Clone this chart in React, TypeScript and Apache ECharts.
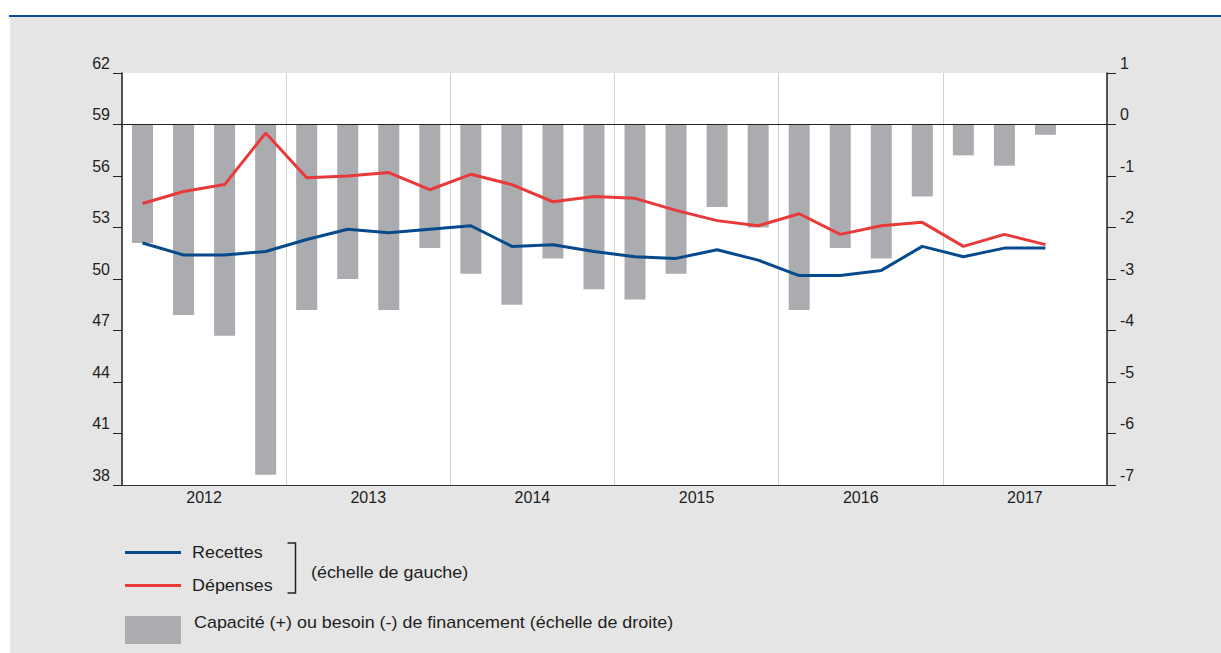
import React, { useEffect, useRef } from "react";
import * as echarts from "echarts";

const quarters = [
  "2012T1", "2012T2", "2012T3", "2012T4",
  "2013T1", "2013T2", "2013T3", "2013T4",
  "2014T1", "2014T2", "2014T3", "2014T4",
  "2015T1", "2015T2", "2015T3", "2015T4",
  "2016T1", "2016T2", "2016T3", "2016T4",
  "2017T1", "2017T2", "2017T3", "2017T4",
];
const years = ["2012", "2013", "2014", "2015", "2016", "2017"];

const recettes = [52.1, 51.4, 51.4, 51.6, 52.3, 52.9, 52.7, 52.9, 53.1, 51.9, 52.0, 51.6, 51.3, 51.2, 51.7, 51.1, 50.2, 50.2, 50.5, 51.9, 51.3, 51.8, 51.8];
const depenses = [54.4, 55.1, 55.5, 58.5, 55.9, 56.0, 56.2, 55.2, 56.1, 55.5, 54.5, 54.8, 54.7, 54.0, 53.4, 53.1, 53.8, 52.6, 53.1, 53.3, 51.9, 52.6, 52.0];
const capacite = [-2.3, -3.7, -4.1, -6.8, -3.6, -3.0, -3.6, -2.4, -2.9, -3.5, -2.6, -3.2, -3.4, -2.9, -1.6, -2.0, -3.6, -2.4, -2.6, -1.4, -0.6, -0.8, -0.2];

const FONT = "'Liberation Sans', Arial, sans-serif";
const BLUE = "#064a8c";
const RED = "#e8393b";
const GREY = "#abacb0";
const TXT = "#1e1e1e";
const LEG_SX = 1.12;

export default function App() {
  const ref = useRef<HTMLDivElement>(null);
  useEffect(() => {
    if (!ref.current) return;
    const chart = echarts.init(ref.current, undefined, { renderer: "svg" });
    const legText = (text: string, x: number, y: number) => ({
      type: "text", x, y, scaleX: LEG_SX,
      style: { text, fill: TXT, font: `16px ${FONT}`, verticalAlign: "middle" },
    });
    const option: any = {
      animation: false,
      textStyle: { fontFamily: FONT },
      grid: {
        left: 122, top: 73, right: 114, bottom: 168,
        show: true, backgroundColor: "#ffffff", borderWidth: 0,
      },
      xAxis: [
        {
          type: "category", data: quarters, position: "top", boundaryGap: true,
          axisLine: { show: true, lineStyle: { color: "#222", width: 1 } },
          axisTick: { show: false }, axisLabel: { show: false }, splitLine: { show: false },
        },
        {
          type: "category", data: years, position: "bottom", boundaryGap: true,
          axisLine: { show: true, lineStyle: { color: "#333", width: 1 } },
          axisTick: { show: false },
          axisLabel: { show: true, color: TXT, fontSize: 16, fontFamily: FONT, margin: 4 },
          splitLine: { show: true, lineStyle: { color: "#d2d2d2", width: 1 } },
        },
      ],
      yAxis: [
        {
          type: "value", position: "left", min: 38, max: 62, alignTicks: true,
          axisLine: { show: true, lineStyle: { color: "#222", width: 1.5 } },
          axisTick: { show: true, length: 9, inside: false, lineStyle: { color: "#222" } },
          axisLabel: { color: TXT, fontSize: 16, fontFamily: FONT, margin: 12, verticalAlign: "bottom", padding: [0, 0, 2, 0] },
          splitLine: { show: false },
        },
        {
          type: "value", position: "right", min: -7, max: 1, interval: 1,
          axisLine: { show: true, lineStyle: { color: "#222", width: 1.5 } },
          axisTick: { show: true, length: 9, inside: false, lineStyle: { color: "#222" } },
          axisLabel: { color: TXT, fontSize: 16, fontFamily: FONT, margin: 13, verticalAlign: "bottom", padding: [0, 0, 2, 0] },
          splitLine: { show: false },
        },
      ],
      series: [
        {
          name: "Capacité (+) ou besoin (-) de financement", type: "bar",
          xAxisIndex: 0, yAxisIndex: 1, data: capacite, barWidth: 21,
          itemStyle: { color: GREY },
          markLine: {
            silent: true, symbol: "none", label: { show: false },
            lineStyle: { color: "#222", width: 1, type: "solid" },
            data: [{ yAxis: 0 }],
          },
        },
        {
          name: "Recettes", type: "line", xAxisIndex: 0, yAxisIndex: 0, data: recettes,
          symbol: "none", lineStyle: { color: BLUE, width: 3 }, itemStyle: { color: BLUE }, z: 3,
        },
        {
          name: "Dépenses", type: "line", xAxisIndex: 0, yAxisIndex: 0, data: depenses,
          symbol: "none", lineStyle: { color: RED, width: 3 }, itemStyle: { color: RED }, z: 4,
        },
      ],
      graphic: [
        { type: "rect", shape: { x: 125, y: 551, width: 56, height: 3 }, style: { fill: BLUE } },
        { type: "rect", shape: { x: 125, y: 584, width: 56, height: 3 }, style: { fill: RED } },
        legText("Recettes", 192, 553),
        legText("Dépenses", 192, 586),
        {
          type: "polyline",
          shape: { points: [[287.5, 543], [295.5, 543], [295.5, 593], [287.5, 593]] },
          style: { stroke: "#222", lineWidth: 1.5, fill: "none" },
        },
        legText("(échelle de gauche)", 311, 573),
        { type: "rect", shape: { x: 125, y: 616, width: 56, height: 28 }, style: { fill: GREY } },
        legText("Capacité (+) ou besoin (-) de financement (échelle de droite)", 194, 623),
      ],
    };
    chart.setOption(option);
    return () => chart.dispose();
  }, []);

  return (
    <div style={{ position: "fixed", left: 0, top: 0, width: 1221, height: 653, background: "#ffffff", overflow: "hidden" }}>
      <div style={{ position: "absolute", left: 9, top: 15, width: 1212, height: 2, background: "#0b4e98" }} />
      <div style={{ position: "absolute", left: 10, top: 17, width: 1211, height: 636, background: "#e5e5e5" }} />
      <div ref={ref} style={{ position: "absolute", left: 0, top: 0, width: 1221, height: 653 }} />
    </div>
  );
}
